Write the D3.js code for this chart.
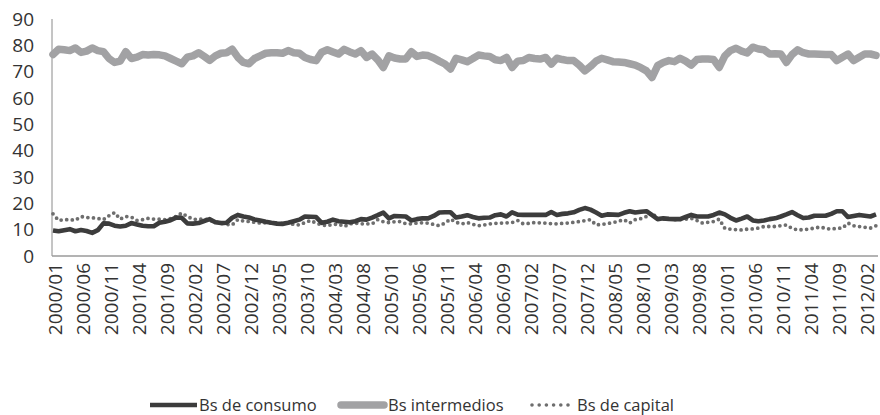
<!DOCTYPE html>
<html>
<head>
<meta charset="utf-8">
<script src="https://cdn.jsdelivr.net/npm/d3@7"></script>
<style>
  body { margin: 0; background: #fff; }
  text { font-family: "Open Sans", sans-serif; fill: #333; }
</style>
</head>
<body>
<div id="chart"></div>
<script>
// monthly series, 2000/01 .. 2012/04
var consumo = [9.7,9.4,9.8,10.2,9.4,9.9,9.5,8.8,9.8,12.4,12.3,11.5,11.2,11.5,12.5,12.0,11.5,11.3,11.3,12.6,
  13.0,13.6,14.6,14.5,12.4,12.3,12.5,13.3,14.0,12.8,12.5,12.6,14.5,15.6,15.0,14.6,13.9,13.5,13.0,12.6,
  12.3,12.2,12.6,13.2,13.8,15.0,14.9,14.8,12.6,13.0,13.8,13.2,13.0,12.8,13.2,14.0,13.8,14.6,15.5,16.5,
  14.3,15.2,15.1,15.0,13.5,14.0,14.3,14.3,15.2,16.5,16.6,16.6,14.6,15.0,15.5,14.8,14.3,14.5,14.6,15.5,
  15.8,15.0,16.6,15.7,15.6,15.6,15.6,15.6,15.6,16.7,15.6,16.0,16.2,16.6,17.5,18.2,17.6,16.5,15.3,15.8,
  15.7,15.6,16.4,17.0,16.5,16.8,17.0,15.5,14.0,14.3,14.1,14.0,14.0,14.8,15.6,15.0,15.0,15.0,15.6,16.5,
  15.8,14.5,13.5,14.2,15.0,13.5,13.2,13.5,14.0,14.3,15.0,15.8,16.7,15.5,14.4,14.6,15.3,15.3,15.3,16.0,
  17.0,17.0,14.8,15.2,15.6,15.3,15.0,15.8];

var intermedios = [76.5,78.5,78.3,78,79,77.3,77.8,79,78,77.6,75,73.5,74,77.6,75,75.5,76.5,76.3,76.5,76.4,
  76,75,74,73,75.5,76,77.2,75.8,74.3,76,77,77.2,78.5,75.5,73.5,73,75,76,77,77.2,
  77.2,77,78,77.2,77,75.4,74.6,74.2,77.4,78.3,77.5,76.7,78.5,77.5,76.7,78,75.4,76.7,74.5,71.6,
  76,75.2,74.8,74.8,77.6,75.8,76.3,76.1,75.2,74,72.9,71,75.1,74.5,73.8,75,76.3,76,75.8,74.5,
  74.2,75.4,71.6,74,74.2,75.4,75,74.8,75.4,72.9,75.1,74.6,74.2,74.2,72.5,70.3,72,74,75.1,74.5,
  73.8,73.7,73.5,73,72.5,71.5,70.3,67.8,72.3,73.5,74.2,73.8,75.1,74,72.5,74.6,74.8,74.8,74.6,71.6,
  76,78,78.9,77.8,77.1,79.3,78.6,78.3,76.7,76.8,76.7,73.5,76.5,78.3,77.2,76.7,76.7,76.6,76.5,76.5,
  74.2,75.5,76.7,74.2,75.5,76.7,76.7,76.2];

var capital = [16.0,13.5,13.8,13.8,13.6,15.0,14.6,14.5,14.3,13.8,15.3,16.5,14.0,15.0,14.8,13.5,13.8,14.3,14.0,14.0,
  13.8,14.2,15.0,16.3,15.0,14.0,13.8,14.2,13.5,13.0,12.5,12.0,11.8,13.8,13.3,13.1,12.8,12.5,12.6,12.5,
  12.5,12.4,12.5,12.0,11.8,12.7,13.5,12.5,11.8,11.5,12.0,12.1,11.2,12.2,12.5,12.2,12.2,12.2,13.8,13.0,
  12.7,13.0,13.1,12.3,12.2,12.5,12.6,12.5,12.0,11.5,12.5,14.0,12.8,12.2,12.7,12.0,11.5,11.8,12.2,12.4,
  12.5,12.6,12.7,13.5,12.2,12.4,12.7,12.6,12.5,12.3,12.2,12.4,12.5,12.8,13.1,13.4,13.8,11.8,12.0,12.3,
  12.7,13.2,13.8,12.5,13.8,14.2,15.0,16.5,14.0,14.0,14.0,13.8,13.8,14.0,14.3,13.5,12.5,12.8,13.1,14.0,
  10.5,10.2,10.0,9.9,10.2,10.3,10.6,11.2,11.2,11.2,11.5,11.8,10.5,9.9,10.0,10.2,10.6,11.0,10.5,10.2,
  10.5,10.6,12.5,11.5,11.2,10.9,10.6,11.5];

var tickLabels = ["2000/01","2000/06","2000/11","2001/04","2001/09","2002/02","2002/07","2002/12",
  "2003/05","2003/10","2004/03","2004/08","2005/01","2005/06","2005/11","2006/04","2006/09","2007/02",
  "2007/07","2007/12","2008/05","2008/10","2009/03","2009/08","2010/01","2010/06","2010/11","2011/04",
  "2011/09","2012/02"];

var yTicks = [0,10,20,30,40,50,60,70,80,90];

var fmt = d3.timeFormat("%Y/%m");
var months = d3.timeMonth.range(new Date(2000,0,1), new Date(2000,0 + consumo.length,1)).map(fmt);

var width = 880, height = 415;

var svg = d3.select("#chart").append("svg")
    .attr("width", width)
    .attr("height", height);

var x = d3.scalePoint()
    .domain(months)
    .range([53, 876]);

var y = d3.scaleLinear()
    .domain([0, 90])
    .range([256, 19]);

// y axis
var yAxis = svg.append("g")
    .attr("transform", "translate(52,0)")
    .call(d3.axisLeft(y).tickValues(yTicks).tickSize(0).tickPadding(18));
yAxis.select(".domain").attr("stroke", "#8a8a8a").attr("d", "M0," + y(90) + "V" + y(0));
yAxis.selectAll("text").style("font-size", "19px").attr("fill", "#333");

// x axis
var xAxis = svg.append("g")
    .attr("transform", "translate(0," + y(0) + ")")
    .call(d3.axisBottom(x).tickValues(tickLabels).tickSize(0));
xAxis.select(".domain").attr("stroke", "#9a9a9a").attr("stroke-width", 1.5)
    .attr("d", "M52,0H878");
xAxis.selectAll("text")
    .style("font-size", "19px")
    .attr("text-anchor", "end")
    .attr("transform", "rotate(-90)")
    .attr("x", -7)
    .attr("y", 2)
    .attr("dy", "0.35em")
    .attr("dx", 0);

function line(values) {
  return d3.line()
    .x(function(d, i) { return x(months[i]); })
    .y(function(d) { return y(d); })(values);
}

svg.append("path")
    .attr("d", line(intermedios))
    .attr("fill", "none")
    .attr("stroke", "#a2a2a4")
    .attr("stroke-width", 7.5)
    .attr("stroke-linejoin", "round")
    .attr("stroke-linecap", "round");

svg.append("path")
    .attr("d", line(capital))
    .attr("fill", "none")
    .attr("stroke", "#6e6e6e")
    .attr("stroke-width", 3.8)
    .attr("stroke-linecap", "round")
    .attr("stroke-dasharray", "0 5.6");

svg.append("path")
    .attr("d", line(consumo))
    .attr("fill", "none")
    .attr("stroke", "#3c3c3c")
    .attr("stroke-width", 4.6)
    .attr("stroke-linejoin", "round");

// legend
var legend = [
  {name: "Bs de consumo", x1: 150, x2: 197, color: "#3c3c3c", w: 4.6, dash: null, cap: "butt"},
  {name: "Bs intermedios", x1: 341, x2: 384, color: "#a2a2a4", w: 7.5, dash: null, cap: "round"},
  {name: "Bs de capital", x1: 532, x2: 573, color: "#6e6e6e", w: 3.6, dash: "0 7.2", cap: "round"}
];
var ly = 405;
legend.forEach(function(l) {
  svg.append("line")
      .attr("x1", l.x1).attr("x2", l.x2)
      .attr("y1", ly).attr("y2", ly)
      .attr("stroke", l.color)
      .attr("stroke-width", l.w)
      .attr("stroke-linecap", l.cap)
      .attr("stroke-dasharray", l.dash);
  svg.append("text")
      .attr("x", l.x2 + (l.cap == "round" ? 4 : 2))
      .attr("y", ly)
      .attr("dy", "0.35em")
      .style("font-size", "16.5px")
      .text(l.name);
});
</script>
</body>
</html>
